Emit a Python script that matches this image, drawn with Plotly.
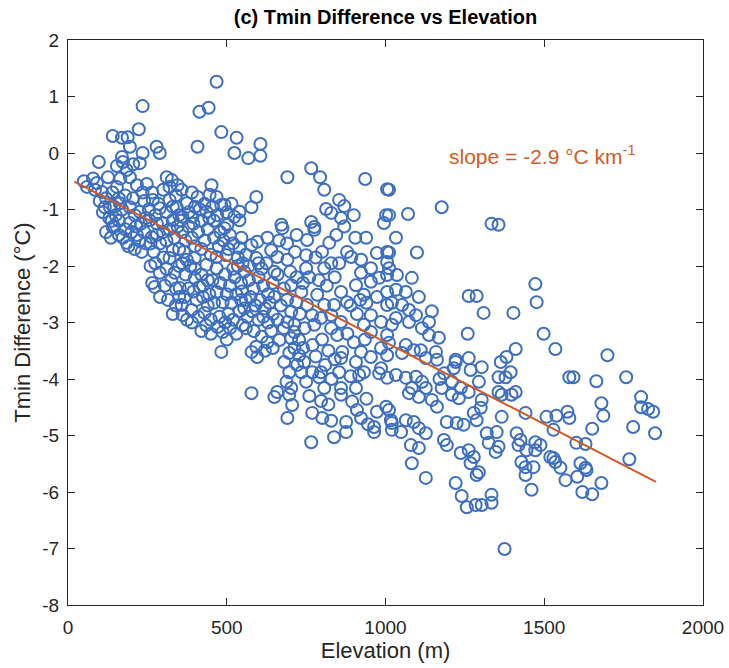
import plotly.graph_objects as go

# Station points (elevation m, Tmin difference °C), grouped by elevation band
band_0_250 = [
    (50,-0.50),(79,-0.45),(91,-0.53),(97,-0.16),(107,-0.69),(126,-0.43),(141,0.30),(132,-0.96),
    (116,-0.96),(100,-0.85),(120,-0.80),(140,-0.70),(110,-1.05),(130,-1.15),(145,-1.30),(141,-1.31),
    (120,-1.40),(135,-1.50),(60,-0.60),(85,-0.65),(145,-0.95),(150,-1.10),(138,-1.20),
    (170,0.27),(188,0.28),(195,0.11),(223,0.42),(235,0.83),(235,0.0),(170,-0.07),(154,-0.23),
    (173,-0.16),(185,-0.30),(226,-0.18),(154,-0.60),(195,-0.43),(217,-0.57),(248,-0.55),(163,-0.89),
    (195,-0.96),(226,-1.04),(195,-1.24),(173,-1.50),(185,-1.59),(232,-1.75),(217,-1.45),(160,-1.20),
    (170,-1.00),(180,-0.75),(205,-0.80),(210,-1.10),(215,-1.30),(230,-1.25),(240,-0.85),(245,-1.15),
    (200,-1.40),(160,-1.45),(180,-1.35),(165,-0.45),(205,-0.20),(240,-1.40),(190,-1.65),(210,-1.70),
    (225,-1.55),(245,-1.60),(160,-0.80),(235,-0.70),
]
band_250_450 = [
    (257,-1.19),(267,-0.83),(279,0.11),(289,0.0),(289,-0.98),(298,-1.24),(311,-0.43),(327,-0.48),
    (320,-0.83),(330,-1.19),(342,-0.96),(345,-0.57),(264,-1.49),(289,-2.12),(273,-2.37),(336,-2.12),
    (330,-1.72),(320,-1.86),(260,-1.60),(270,-1.75),(280,-1.45),(290,-1.60),(300,-1.40),(310,-1.55),
    (320,-1.35),(335,-1.50),(345,-1.30),(260,-2.00),(275,-1.95),(300,-1.85),(310,-2.05),(325,-2.25),
    (340,-2.40),(350,-2.00),(305,-2.35),(290,-2.55),(315,-2.60),(340,-2.70),(330,-2.85),(265,-0.70),
    (285,-0.90),(300,-0.65),(320,-0.60),(340,-0.75),(255,-1.00),(275,-1.10),(310,-1.05),(330,-0.95),
    (350,-1.10),(265,-2.30),(350,-2.55),(350,-1.70),(280,-1.25),
    (358,-0.65),(374,-0.89),(361,-1.13),(392,-1.13),(414,0.73),(443,0.80),(408,0.11),(436,-1.04),
    (408,-0.78),(446,-0.74),(352,-2.39),(367,-2.55),(358,-2.69),(361,-2.87),(389,-2.78),(430,-2.83),
    (399,-2.21),(414,-2.37),(374,-1.89),(399,-1.86),(436,-1.98),(360,-1.40),(370,-1.55),(380,-1.30),
    (390,-1.50),(400,-1.65),(410,-1.40),(420,-1.70),(430,-1.55),(440,-1.35),(450,-1.80),(365,-1.75),
    (385,-2.00),(400,-2.05),(420,-2.15),(440,-2.25),(445,-2.50),(425,-2.55),(405,-2.60),(380,-2.40),
    (370,-2.15),(395,-2.45),(410,-2.90),(435,-3.05),(450,-3.20),(420,-3.15),(390,-3.00),(375,-2.95),
    (360,-1.95),(355,-1.20),(380,-1.05),(400,-0.95),(420,-1.20),(445,-1.15),(430,-0.90),(390,-0.70),
    (415,-1.00),(440,-2.70),(450,-2.95),(425,-2.35),(395,-1.25),
]
band_450_650 = [
    (468,1.26),(483,0.37),(452,-0.57),(455,-2.25),(468,-2.46),(487,-2.64),(477,-2.90),(471,-3.08),
    (487,-3.17),(483,-3.52),(468,-1.84),(468,-2.04),(499,-1.81),(531,0.27),(524,0.0),(468,-0.78),
    (483,-0.92),(493,-0.92),(524,-1.13),(540,-1.04),(540,-1.19),(502,-1.27),(546,-1.50),(540,-1.68),
    (493,-1.33),(460,-1.50),(475,-1.65),(490,-1.55),(505,-1.70),(520,-1.60),(535,-1.85),(550,-1.95),
    (460,-2.65),(480,-2.30),(495,-2.15),(510,-2.35),(525,-2.20),(545,-2.30),(500,-2.50),(515,-2.65),
    (530,-2.50),(545,-2.60),(505,-2.85),(520,-2.95),(540,-2.80),(555,-2.75),(495,-3.00),(510,-3.10),
    (530,-3.20),(550,-3.05),(520,-2.05),(460,-1.20),(480,-1.40),(500,-1.05),(515,-0.90),(470,-1.10),
    (455,-0.95),(510,-1.45),(535,-2.00),(548,-2.45),(500,-3.30),
    (568,-0.09),(606,0.16),(606,-0.05),(593,-0.78),(578,-0.96),(578,-1.63),(596,-1.57),(628,-1.50),
    (593,-1.86),(640,-1.72),(628,-3.35),(593,-3.43),(596,-3.61),(578,-3.52),(578,-4.25),(650,-4.32),
    (555,-2.10),(570,-2.25),(585,-2.40),(600,-2.20),(615,-2.35),(630,-2.50),(645,-2.30),(560,-2.60),
    (575,-2.55),(590,-2.70),(605,-2.60),(620,-2.75),(635,-2.65),(650,-2.55),(565,-2.90),(580,-2.80),
    (600,-2.95),(615,-2.90),(630,-3.00),(645,-2.85),(560,-3.10),(585,-3.15),(610,-3.25),(640,-3.15),
    (570,-2.00),(610,-2.05),(625,-1.95),(650,-2.10),(560,-1.80),(600,-1.95),(620,-3.50),(645,-3.45),
]
band_650_850 = [
    (675,-1.33),(659,-1.84),(691,-1.89),(672,-1.27),(691,-0.43),(703,-2.34),(719,-2.64),(735,-2.46),
    (703,-2.81),(691,-2.99),(713,-3.04),(713,-3.17),(703,-3.28),(728,-3.31),(713,-3.45),(697,-3.54),
    (728,-3.58),(722,-3.75),(744,-3.70),(681,-3.70),(697,-3.88),(735,-3.88),(688,-4.05),(703,-4.16),
    (659,-4.23),(666,-3.31),(697,-4.28),(706,-4.46),(691,-4.69),(750,-1.81),(750,-2.04),(753,-2.69),
    (750,-4.05),(660,-2.15),(680,-2.40),(690,-2.60),(670,-2.70),(660,-2.95),(680,-3.10),(700,-2.10),
    (720,-2.20),(740,-2.30),(730,-2.85),(745,-3.10),(665,-1.55),(690,-1.60),(715,-1.75),(720,-1.45),
    (740,-3.45),
    (753,-1.54),(766,-0.27),(794,-0.43),(807,-0.65),(813,-0.99),(829,-1.06),(776,-1.36),(766,-1.22),
    (776,-1.31),(823,-1.59),(807,-2.04),(829,-1.95),(785,-2.51),(807,-2.69),(769,-2.87),(797,-2.92),
    (776,-3.04),(838,-2.69),(829,-2.87),(829,-3.10),(848,-3.22),(769,-3.88),(797,-3.88),(791,-3.97),
    (807,-4.16),(797,-4.39),(769,-4.60),(801,-4.69),(829,-4.74),(838,-5.03),(766,-5.12),(780,-1.85),
    (800,-1.75),(760,-2.20),(790,-2.25),(815,-2.35),(840,-2.20),(770,-3.40),(800,-3.30),(820,-3.50),
    (840,-3.65),(780,-3.60),(810,-3.75),(830,-4.00),(845,-1.45),(760,-4.30),(820,-4.45),
]
band_850_1050 = [
    (854,-0.83),(870,-0.94),(936,-0.46),(854,-1.95),(879,-1.75),(892,-1.84),(923,-1.89),(939,-1.50),
    (954,-2.04),(923,-2.12),(907,-2.34),(954,-2.28),(932,-2.51),(860,-2.46),(879,-2.64),(860,-2.99),
    (954,-2.87),(932,-3.04),(954,-3.17),(864,-3.52),(860,-3.63),(854,-3.88),(907,-3.70),(923,-3.52),
    (954,-3.61),(917,-3.93),(932,-3.88),(860,-4.16),(907,-4.16),(860,-4.28),(876,-4.76),(876,-4.94),
    (923,-4.69),(870,-1.30),(900,-1.10),(890,-2.70),(910,-2.85),(940,-2.65),(880,-3.20),(900,-3.35),
    (935,-3.30),(895,-4.40),(940,-4.35),(910,-4.55),(945,-4.80),(860,-1.15),(905,-1.50),(920,-2.60),
    (890,-3.95),
    (1005,-0.64),(1002,-1.10),(995,-1.24),(1011,-0.65),(1011,-1.10),(1033,-1.50),(1011,-1.76),
    (973,-1.77),(1005,-1.75),(1005,-1.93),(980,-2.21),(1005,-2.16),(973,-2.55),(1005,-2.46),
    (1005,-2.69),(986,-2.99),(1005,-3.22),(986,-3.45),(1005,-3.58),(986,-3.81),(980,-3.90),
    (1005,-3.98),(973,-4.58),(1002,-4.49),(964,-4.85),(964,-4.94),(1017,-4.73),(1020,-4.90),
    (1011,-4.55),(1020,-4.78),(1049,-4.94),(1011,-2.04),(1036,-2.16),(1033,-2.42),(1020,-2.65),
    (1033,-2.92),(1020,-3.04),(1011,-3.36),(1033,-3.93),
]
band_1050_1350 = [
    (1083,-2.21),(1064,-2.46),(1105,-2.55),(1052,-2.69),(1074,-2.78),(1096,-2.87),(1146,-2.80),
    (1137,-2.99),(1115,-3.10),(1137,-3.22),(1168,-3.27),(1074,-2.99),(1064,-3.40),(1089,-3.49),
    (1111,-3.49),(1159,-3.52),(1127,-3.63),(1162,-3.66),(1221,-3.66),(1052,-3.54),(1064,-3.98),
    (1096,-3.96),(1115,-4.05),(1083,-4.16),(1127,-4.16),(1177,-4.16),(1209,-4.05),(1237,-4.16),
    (1262,-3.63),(1071,-1.08),(1099,-1.76),(1074,-4.25),(1105,-4.32),(1146,-4.37),(1064,-4.73),
    (1089,-4.76),(1105,-4.87),(1127,-4.96),(1080,-5.17),(1105,-5.22),(1083,-5.49),(1127,-5.75),
    (1177,-0.96),(1162,-4.49),(1209,-4.28),(1231,-4.34),(1193,-4.76),(1224,-4.78),(1246,-4.81),
    (1184,-5.08),(1193,-5.17),(1237,-5.31),(1221,-5.84),(1240,-6.07),(1221,-3.70),(1215,-3.81),
    (1185,-3.90),(1170,-4.00),
    (1262,-2.53),(1287,-2.53),(1309,-2.83),(1259,-3.20),(1268,-3.84),(1303,-3.79),(1294,-4.05),
    (1262,-4.23),(1303,-4.37),(1300,-4.51),(1278,-4.60),(1287,-4.73),(1319,-4.96),(1262,-5.26),
    (1278,-5.38),(1268,-5.49),(1294,-5.65),(1287,-5.70),(1256,-6.27),(1284,-6.23),(1303,-6.23),
    (1334,-6.05),(1334,-6.19),(1325,-5.13),(1334,-1.25),(1350,-4.94),(1347,-5.29),
]
band_1350_1900 = [
    (1356,-1.27),(1403,-2.83),(1410,-3.47),(1381,-3.61),(1363,-3.70),(1394,-3.88),(1356,-3.97),
    (1378,-3.97),(1410,-4.23),(1356,-4.23),(1366,-4.28),(1397,-4.28),(1366,-4.67),(1441,-4.60),
    (1356,-5.20),(1413,-4.96),(1425,-5.08),(1419,-5.17),(1444,-5.26),(1428,-5.47),(1441,-5.56),
    (1441,-5.70),(1375,-7.01),
    (1472,-2.32),(1476,-2.64),(1498,-3.20),(1535,-3.47),(1507,-4.67),(1529,-4.90),(1472,-5.12),
    (1488,-5.17),(1472,-5.26),(1466,-5.56),(1519,-5.38),(1535,-5.47),(1460,-5.96),(1538,-4.65),
    (1529,-5.40),
    (1579,-3.97),(1592,-3.97),(1573,-4.58),(1579,-4.69),(1601,-5.13),(1630,-5.15),(1551,-5.57),
    (1614,-5.49),(1630,-5.57),(1633,-5.61),(1604,-5.73),(1567,-5.79),(1620,-6.00),(1651,-6.04),
    (1651,-4.88),(1664,-4.04),
    (1699,-3.58),(1758,-3.97),(1805,-4.32),(1805,-4.50),(1827,-4.53),(1843,-4.58),(1849,-4.96),
    (1780,-4.85),(1768,-5.42),(1680,-4.43),(1686,-4.65),(1680,-5.84),
]

# Regression line parameters
slope_per_m = -0.0029        # -2.9 °C per km
intercept = -0.45
fit_elev_range = [20, 1852]

x_ticks = [0, 500, 1000, 1500, 2000]
y_ticks = [2, 1, 0, -1, -2, -3, -4, -5, -6, -7, -8]

points = band_0_250 + band_250_450 + band_450_650 + band_650_850 + band_850_1050 + band_1050_1350 + band_1350_1900
elev = [p[0] for p in points]
dtmin = [p[1] for p in points]
fit_y = [intercept + slope_per_m * e for e in fit_elev_range]

BLUE = "#3D6FC1"
ORANGE = "#D35A23"
AXC = "#262626"
FONT = "Liberation Sans, Arial, Helvetica, sans-serif"

fig = go.Figure()
fig.add_trace(go.Scatter(
    x=elev, y=dtmin, mode="markers",
    marker=dict(symbol="circle-open", size=12, color=BLUE, line=dict(width=2, color=BLUE)),
    showlegend=False, hoverinfo="x+y"))
fig.add_trace(go.Scatter(
    x=fit_elev_range, y=fit_y, mode="lines",
    line=dict(color=ORANGE, width=2), showlegend=False))

fig.add_annotation(x=1193, y=-0.04, xref="x", yref="y", xanchor="left", yanchor="middle",
                   text="slope = -2.9 °C km<sup>-1</sup>", showarrow=False,
                   font=dict(family=FONT, size=21, color=ORANGE))

axis_common = dict(showgrid=False, zeroline=False, showline=True, linecolor=AXC, linewidth=1.2,
                   mirror="ticks", ticks="inside", ticklen=7, tickwidth=1.2, tickcolor=AXC,
                   automargin=False,
                   tickfont=dict(family=FONT, size=19, color=AXC))

fig.update_layout(
    width=729, height=668,
    margin=dict(l=68, r=26, t=40, b=63),
    paper_bgcolor="white", plot_bgcolor="white",
    title=dict(text="<b>(c) Tmin Difference vs Elevation</b>", x=0.5, xanchor="center",
               xref="paper", yref="container", y=1 - 17 / 668, yanchor="middle",
               automargin=False,
               font=dict(family=FONT, size=20, color="black")),
    xaxis=dict(range=[0, 2000], tickvals=x_ticks, ticktext=[str(v) for v in x_ticks],
               ticklabelstandoff=5,
               title=dict(text="Elevation (m)", font=dict(family=FONT, size=22, color=AXC), standoff=4),
               **axis_common),
    yaxis=dict(range=[-8, 2], tickvals=y_ticks, ticktext=[str(v) for v in y_ticks],
               ticklabelstandoff=4,
               title=dict(text="Tmin Difference (°C)", font=dict(family=FONT, size=22, color=AXC), standoff=5),
               **axis_common),
)

fig.write_html("out.html", config={"displayModeBar": False},
               post_script="document.body.style.margin='0';")
